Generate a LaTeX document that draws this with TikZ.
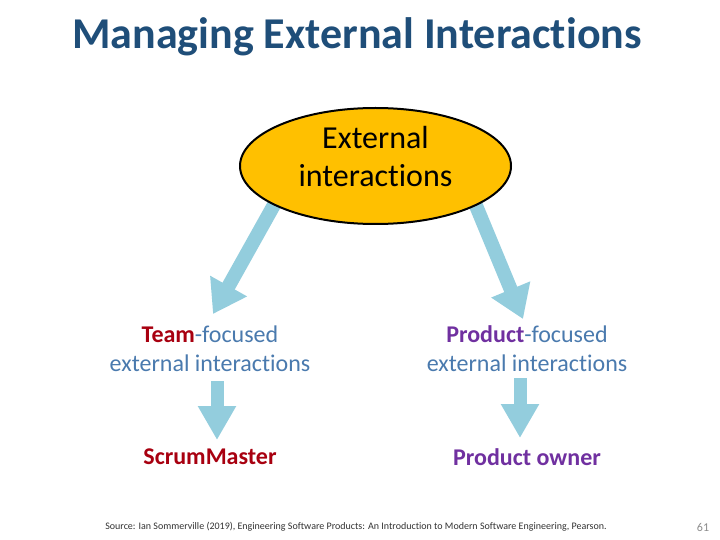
\documentclass[tikz,border=0pt]{standalone}
\usepackage{fontspec}
\setmainfont{Carlito}[Ligatures={NoCommon}]
\usetikzlibrary{shapes.geometric,arrows.meta}
\definecolor{titleblue}{HTML}{1F4E79}
\definecolor{ellfill}{HTML}{FFC000}
\definecolor{arrowblue}{HTML}{93CDDD}
\definecolor{txtblue}{HTML}{4A7AAE}
\definecolor{darkred}{HTML}{A80010}
\definecolor{purp}{HTML}{7030A0}
\definecolor{pagenum}{HTML}{8C8C8C}
\tikzset{
  bigarrow/.style={draw=arrowblue, line width=14pt, -{Triangle[length=32pt 0, width=40pt 0]}},
  smallarrow/.style={draw=arrowblue, line width=13pt, -{Triangle[length=34pt 0, width=36pt 0]}},
  boxtext/.style={align=center, font=\fontsize{24}{28.8}\selectfont, text=txtblue, inner sep=0pt},
  roletext/.style={font=\fontsize{24}{28.8}\selectfont\bfseries, inner sep=0pt},
}
\begin{document}
\begin{tikzpicture}[x=1pt,y=-1pt]
\useasboundingbox[fill=white] (0,0) rectangle (720,540);
% title
\node[font=\fontsize{44}{52}\selectfont\bfseries, text=titleblue] (title) at (357,37) {Managing External Interactions};
% connector end points
\coordinate (ls) at (279,196);
\coordinate (lt) at (213,314);
\coordinate (rs) at (472,196);
\coordinate (rt) at (523,319);
\coordinate (ts) at (217,381);
\coordinate (tt) at (217,440);
\coordinate (ps) at (520,378);
\coordinate (pt) at (520,438);
% big arrows (behind ellipse)
\draw[bigarrow] (ls) -- (lt);
\draw[bigarrow] (rs) -- (rt);
% ellipse
\node[ellipse, draw=black, line width=2pt, fill=ellfill, minimum width=271pt, minimum height=116pt, inner sep=0pt] (ext) at (375.5,166) {};
\node[align=center, font=\fontsize{32}{38.4}\selectfont, inner sep=0pt] (extlabel) at (375.5,156.5) {External\\interactions};
% texts
\node[boxtext] (team) at (210,349) {\textbf{\color{darkred}Team}-focused\\external interactions};
\node[boxtext] (prod) at (527,349) {\textbf{\color{purp}Product}-focused\\external interactions};
\node[roletext, text=darkred] (sm) at (210,457) {ScrumMaster};
\node[roletext, text=purp] (po) at (527,457) {Product owner};
% small arrows
\draw[smallarrow] (ts) -- (tt);
\draw[smallarrow] (ps) -- (pt);
% footer
\node[font=\fontsize{10}{12}\selectfont, text=black!80, inner sep=0pt] (src) at (356,527) {Source: Ian Sommerville (2019), Engineering Software Products: An Introduction to Modern Software Engineering, Pearson.};
\node[font=\fontsize{12}{14}\selectfont, text=pagenum, inner sep=0pt] (num) at (703,527) {61};
\end{tikzpicture}
\end{document}
